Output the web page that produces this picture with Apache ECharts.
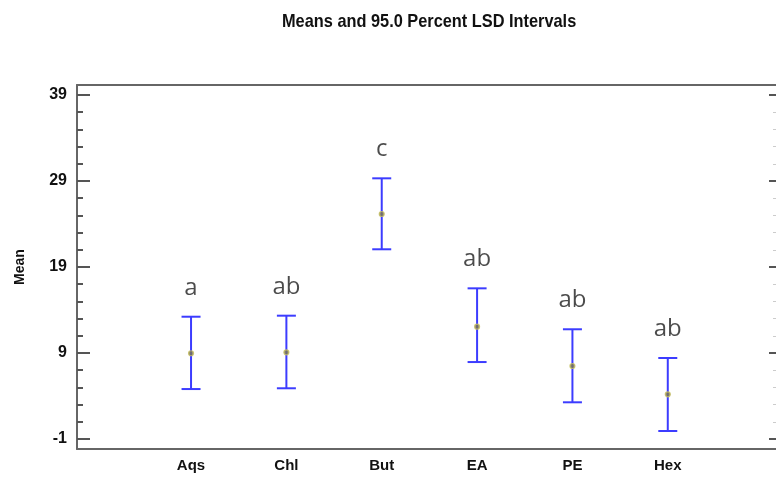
<!DOCTYPE html>
<html>
<head>
<meta charset="utf-8">
<script src="https://cdn.jsdelivr.net/npm/echarts@6/dist/echarts.min.js"></script>
<style>html,body{margin:0;padding:0;background:#fff}#c{width:776px;height:478px}</style>
</head>
<body>
<div id="c"></div>
<script>
var categories = ['Aqs', 'Chl', 'But', 'EA', 'PE', 'Hex'];
var means = [8.97, 9.08, 25.16, 12.06, 7.49, 4.2];
var lowers = [4.81, 4.9, 21.06, 7.95, 3.27, -0.07];
var uppers = [13.22, 13.34, 29.31, 16.52, 11.76, 8.42];
var letters = ['a', 'ab', 'c', 'ab', 'ab', 'ab'];
var yTicks = [-1, 9, 19, 29, 39];
var yMinorTicks = [1, 3, 5, 7, 11, 13, 15, 17, 21, 23, 25, 27, 31, 33, 35, 37];

var FONT = "'Liberation Sans', Arial, sans-serif";
var AX = {show: true, onZero: false, lineStyle: {color: '#666', width: 2}};
var xPos = categories.map(function (c, i) { return i + 1; });

var barData = categories.map(function (c, i) { return [i + 1, lowers[i], uppers[i]]; });
var meanData = categories.map(function (c, i) { return [i + 1, means[i]]; });
var letterData = categories.map(function (c, i) { return [i + 1, uppers[i], letters[i]]; });

var chart = echarts.init(document.getElementById('c'), null, {renderer: 'canvas'});
chart.setOption({
  animation: false,
  graphic: [{
    type: 'text', left: 282, top: 12, scaleX: 0.86,
    style: {
      text: 'Means and 95.0 Percent LSD Intervals',
      font: "bold 19px 'Liberation Sans', Arial, sans-serif", fill: '#111'
    }
  }],
  grid: {left: 77, right: 0, top: 85, bottom: 29},
  xAxis: [{
    type: 'value', min: -0.196, max: 7.135, position: 'bottom',
    axisLine: AX, axisTick: {show: false}, splitLine: {show: false},
    axisLabel: {
      customValues: xPos, margin: 9,
      formatter: function (v) { return categories[Math.round(v) - 1] || ''; },
      fontFamily: FONT, fontWeight: 'bold', fontSize: 15, color: '#111'
    }
  }, {
    type: 'value', min: -0.196, max: 7.135, position: 'top',
    axisLine: AX, axisTick: {show: false}, axisLabel: {show: false}, splitLine: {show: false}
  }],
  yAxis: [{
    type: 'value', min: -2.16, max: 40.16, position: 'left',
    name: 'Mean', nameLocation: 'middle', nameGap: 50, nameRotate: 90,
    nameTextStyle: {fontFamily: FONT, fontWeight: 'bold', fontSize: 14, color: '#111'},
    axisLine: AX, splitLine: {show: false},
    axisTick: {show: true, inside: true, length: 13, customValues: yTicks, lineStyle: {color: '#555', width: 2}},
    axisLabel: {customValues: yTicks, margin: 10, fontFamily: FONT, fontWeight: 'bold', fontSize: 16, color: '#111'}
  }, {
    type: 'value', min: -2.16, max: 40.16, position: 'left', offset: 0,
    axisLine: {show: false, onZero: false}, splitLine: {show: false}, axisLabel: {show: false},
    axisTick: {show: true, inside: true, length: 6, customValues: yMinorTicks, lineStyle: {color: '#555', width: 2}}
  }, {
    type: 'value', min: -2.16, max: 40.16, position: 'right',
    axisLine: {show: false, onZero: false}, splitLine: {show: false}, axisLabel: {show: false},
    axisTick: {show: true, inside: true, length: 7, customValues: yTicks, lineStyle: {color: '#555', width: 2}}
  }, {
    type: 'value', min: -2.16, max: 40.16, position: 'right',
    axisLine: {show: false, onZero: false}, splitLine: {show: false}, axisLabel: {show: false},
    axisTick: {show: true, inside: true, length: 3, customValues: yMinorTicks, lineStyle: {color: '#ccc', width: 1}}
  }],
  series: [{
    type: 'custom', xAxisIndex: 0, yAxisIndex: 0,
    data: barData,
    renderItem: function (params, api) {
      var lo = api.coord([api.value(0), api.value(1)]);
      var hi = api.coord([api.value(0), api.value(2)]);
      var hw = 9.5;
      var st = {stroke: '#3c3cff', lineWidth: 2};
      return {
        type: 'group',
        children: [
          {type: 'line', shape: {x1: lo[0], y1: lo[1], x2: hi[0], y2: hi[1]}, style: st},
          {type: 'line', shape: {x1: lo[0] - hw, y1: lo[1], x2: lo[0] + hw, y2: lo[1]}, style: st},
          {type: 'line', shape: {x1: hi[0] - hw, y1: hi[1], x2: hi[0] + hw, y2: hi[1]}, style: st}
        ]
      };
    }
  }, {
    type: 'scatter', xAxisIndex: 0, yAxisIndex: 0,
    data: meanData, symbol: 'circle', symbolSize: 5,
    itemStyle: {color: '#7a7550', borderColor: '#c8c060', borderWidth: 1.2}
  }, {
    type: 'scatter', xAxisIndex: 0, yAxisIndex: 0,
    data: letterData, symbolSize: 0,
    label: {
      show: true, position: 'top', distance: 17,
      formatter: function (p) { return p.data[2]; },
      fontFamily: "'Open Sans', 'Noto Sans', sans-serif", fontSize: 24, color: '#1e1e1e'
    }
  }]
});
</script>
</body>
</html>
